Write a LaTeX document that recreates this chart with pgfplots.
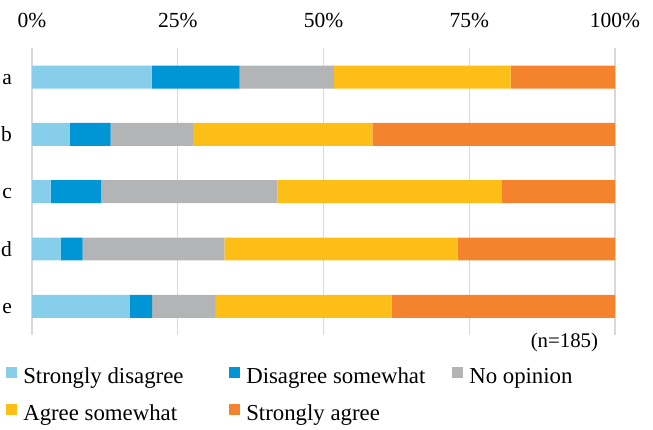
\documentclass[border=0pt]{standalone}
\usepackage{fontspec}
\setmainfont{Liberation Serif}
\usepackage{pgfplots}
\usepackage{pgfplotstable}
\pgfplotsset{compat=1.18}

\definecolor{sdis}{RGB}{135,206,235}
\definecolor{dsom}{RGB}{0,150,214}
\definecolor{noop}{RGB}{179,180,181}
\definecolor{asom}{RGB}{253,190,23}
\definecolor{sagr}{RGB}{245,131,45}

% percent of respondents, n=185; pos: a=4 ... e=0
\pgfplotstableread{
pos sd   ds   no   as   sa
4   20.5 15.1 16.2 30.3 17.9
3   6.5  7.0  14.1 30.8 41.6
2   3.2  8.6  30.3 38.4 19.5
1   4.9  3.8  24.3 40.0 27.0
0   16.8 3.8  10.8 30.3 38.3
}\survey

\newcommand{\lentry}[2][102.85pt]{\makebox[#1][l]{#2}}

\begin{document}
\fontsize{10.75pt}{13pt}\selectfont
\begin{tikzpicture}
\begin{axis}[
    scale only axis,
    width=291.5pt, height=143.3pt,
    clip=false,
    xbar stacked,
    bar width=0.4,
    xmin=0, xmax=100,
    ymin=-0.5, ymax=4.5,
    xtick={0,25,50,75,100},
    xticklabels={0\%,25\%,50\%,75\%,100\%},
    xticklabel pos=upper,
    xticklabel style={anchor=base, yshift=10.6pt},
    ytick={0,1,2,3,4},
    yticklabels={e,d,c,b,a},
    yticklabel style={anchor=base east, inner sep=0pt, xshift=-9.85pt, yshift=-3.5pt},
    major tick length=0pt,
    tick style={draw=none},
    axis line style={draw=none},
    xmajorgrids,
    grid style={draw={rgb,255:red,217;green,217;blue,217}, line width=0.65pt},
    legend columns=3,
    legend cell align=left,
    legend image code/.code={\fill[#1] (0pt,0pt) rectangle (5.5pt,5.5pt);},
    legend style={
        draw=none, fill=none, inner sep=0pt, outer sep=0pt,
        anchor=north west,
        at={(axis description cs:-0.0446,-0.1127)},
        font=\fontsize{11.4pt}{13pt}\selectfont,
        nodes={inner sep=0pt, text height=7.5pt, text depth=2.4pt},
        row sep=8.1pt,
        /tikz/every odd column/.append style={column sep=3.15pt},
        /tikz/every even column/.append style={column sep=0pt},
    },
]
\addplot[fill=sdis, draw=none] table[x=sd, y=pos] {\survey};
\addlegendentry{\lentry{Strongly disagree}}
\addplot[fill=dsom, draw=none] table[x=ds, y=pos] {\survey};
\addlegendentry{\lentry{Disagree somewhat}}
\addplot[fill=noop, draw=none] table[x=no, y=pos] {\survey};
\addlegendentry{\lentry[60pt]{No opinion}}
\addplot[fill=asom, draw=none] table[x=as, y=pos] {\survey};
\addlegendentry{\lentry{Agree somewhat}}
\addplot[fill=sagr, draw=none] table[x=sa, y=pos] {\survey};
\addlegendentry{\lentry{Strongly agree}}
\node[anchor=base east, inner sep=0pt, font=\fontsize{10.4pt}{12pt}\selectfont]
    at (axis description cs:0.9715,-0.0429) {(n=185)};
\end{axis}
\path (-16pt,-47pt) rectangle (310.5pt,167.5pt);
\end{tikzpicture}
\end{document}
